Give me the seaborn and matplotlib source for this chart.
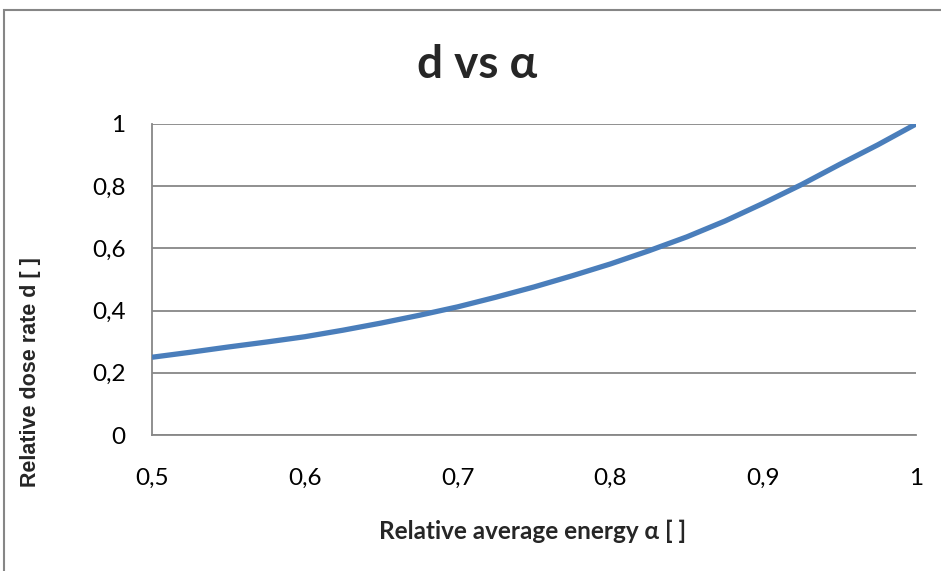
import matplotlib
matplotlib.use("Agg")
import matplotlib.pyplot as plt
import seaborn as sns
import pandas as pd
from matplotlib.ticker import FuncFormatter, MultipleLocator
from matplotlib.patches import Rectangle

# Data
alpha = [0.500, 0.525, 0.550, 0.575, 0.600, 0.625, 0.650, 0.675, 0.700, 0.725, 0.750,
         0.775, 0.800, 0.825, 0.850, 0.875, 0.900, 0.925, 0.950, 0.975, 1.000]
dose = [0.250, 0.266, 0.283, 0.299, 0.316, 0.337, 0.360, 0.385, 0.412, 0.443, 0.476,
        0.512, 0.550, 0.592, 0.637, 0.688, 0.745, 0.805, 0.870, 0.933, 1.000]
title = "d vs α"
xlabel = "Relative average energy α [ ]"
ylabel = "Relative dose rate d [ ]"

df = pd.DataFrame({"alpha": alpha, "dose": dose})

sns.set_theme(style="white")
plt.rcParams["font.family"] = ["Lato", "DejaVu Sans"]

W, H = 941, 571
fig = plt.figure(figsize=(W / 100, H / 100), dpi=100)
ax = fig.add_axes([152 / W, 1 - 435 / H, (916 - 152) / W, (435 - 124) / H])

sns.lineplot(data=df, x="alpha", y="dose", ax=ax, color="#4A7EBB", linewidth=3.8,
             solid_capstyle="butt", solid_joinstyle="round", zorder=3)

ax.set_xlim(0.5, 1.0)
ax.set_ylim(0, 1.0)
ax.xaxis.set_major_locator(MultipleLocator(0.1))
ax.yaxis.set_major_locator(MultipleLocator(0.2))

def fmt(v, pos):
    s = f"{v:.1f}"
    if s.endswith(".0"):
        s = s[:-2]
    return s.replace(".", ",")

ax.xaxis.set_major_formatter(FuncFormatter(fmt))
ax.yaxis.set_major_formatter(FuncFormatter(fmt))
ax.tick_params(axis="x", length=0, pad=24, labelsize=17.5, colors="black")
ax.tick_params(axis="y", length=0, pad=19, labelsize=17.5, colors="black")

ax.grid(axis="y", color="#878787", linewidth=1.3)
ax.grid(axis="x", visible=False)
for s in ["top", "right"]:
    ax.spines[s].set_visible(False)
for s in ["left", "bottom"]:
    ax.spines[s].set_color("#878787")
    ax.spines[s].set_linewidth(1.3)
ax.set_xlabel("")
ax.set_ylabel("")

fig.text(477 / W, 1 - 65 / H, title, ha="center", va="center", fontsize=33,
         fontweight="bold")
fig.text(533 / W, 1 - 531 / H, xlabel, ha="center", va="center", fontsize=17.5,
         fontweight="bold")
fig.text(31 / W, 1 - 372 / H, ylabel, ha="center", va="center", fontsize=15.5,
         fontweight="bold", rotation=90, family=["Liberation Sans", "DejaVu Sans"])

fig.patches.append(Rectangle((4 / W, -0.1), 1.1, 1 - 10 / H + 0.1,
                             transform=fig.transFigure, fill=False,
                             edgecolor="#868686", linewidth=1.5))

fig.savefig("out.png", dpi=100)
